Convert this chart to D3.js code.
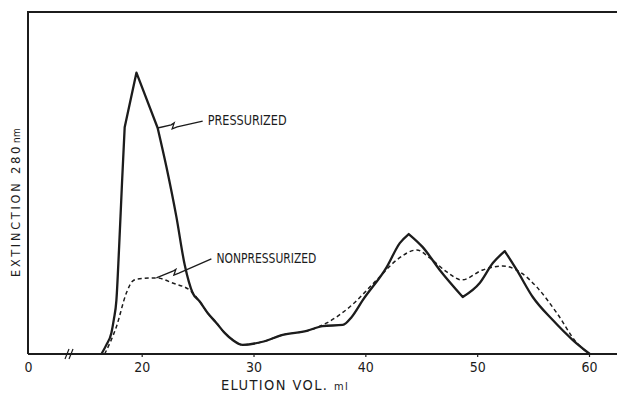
<!DOCTYPE html>
<html>
<head>
<meta charset="utf-8">
<script src="https://cdn.jsdelivr.net/npm/d3@7"></script>
<style>
  body { margin: 0; background: #fff; }
  text { font-family: "DejaVu Sans Condensed", "Liberation Sans Narrow", "Arial Narrow", sans-serif; fill: #1c1c1c; }
</style>
</head>
<body>
<script>
// values: elution volume (ml) and extinction (arbitrary units)
const pressVol = [16.4, 16.84, 17.29, 17.5, 17.74, 17.97, 18.24, 18.48, 19.53, 21.43, 22.21, 23.1, 23.85, 24.56, 25.19, 25.9, 26.68, 27.42, 28.14, 29.03, 30.82, 32.61, 34.76, 36.19, 37.98, 38.78, 39.77, 41.91, 43.08, 43.88, 45.13, 46.65, 48.71, 50.23, 51.4, 52.47, 53.54, 54.97, 56.76, 58.55, 60.07];
const pressExt = [0, 0.032, 0.074, 0.119, 0.189, 0.365, 0.6, 0.796, 0.987, 0.793, 0.657, 0.482, 0.312, 0.214, 0.184, 0.144, 0.109, 0.074, 0.049, 0.032, 0.043, 0.067, 0.081, 0.098, 0.102, 0.13, 0.189, 0.305, 0.389, 0.421, 0.375, 0.295, 0.2, 0.249, 0.319, 0.361, 0.295, 0.2, 0.119, 0.049, 0];
// the pen makes sharp corners at these volumes
const pressCorners = [18.48, 19.53, 21.43, 43.88, 48.71, 52.47];

const nonVol = [16.69, 17.74, 18.63, 19.19, 19.64, 21.31, 22.77, 24.45, 25.19, 25.9, 26.68, 27.42, 28.14, 29.03, 30.82, 32.61, 34.76, 36.55, 38.6, 41.02, 42.81, 44.6, 45.76, 47.28, 48.62, 50.5, 52.29, 53.81, 55.33, 57.12, 58.91, 60.07];
const nonExt = [0, 0.096, 0.214, 0.256, 0.263, 0.267, 0.249, 0.219, 0.184, 0.144, 0.109, 0.074, 0.049, 0.032, 0.043, 0.067, 0.081, 0.109, 0.165, 0.26, 0.33, 0.365, 0.337, 0.288, 0.26, 0.295, 0.309, 0.288, 0.235, 0.144, 0.039, 0];

const xTicks = [0, 20, 30, 40, 50, 60];

// label name, point on curve it points at, where the text starts
const labelNames = ["PRESSURIZED", "NONPRESSURIZED"];
const labelAt = [[21.43, 0.793], [21.31, 0.267]];
const labelText = [[25.9, 0.821], [26.68, 0.337]];

const width = 617, height = 393;
const ink = "#1c1c1c";

const svg = d3.select("body")
  .append("svg")
    .attr("width", width)
    .attr("height", height);

// broken axis: 0 squeezed at the left, real scale from the break on
const x = d3.scaleLinear()
  .domain([0, 13.5, 60])
  .range([28, 69, 589]);

const y = d3.scaleLinear()
  .domain([0, 1.2])
  .range([354, 12]);

// frame: left and top (runs off the right edge)
svg.append("path")
  .attr("d", `M${x(0)},${y(0)} V${y(1.2)} H${width + 10}`)
  .attr("fill", "none")
  .attr("stroke", ink)
  .attr("stroke-width", 2);

// x axis
const gx = svg.append("g")
  .attr("transform", `translate(0,${y(0)})`)
  .call(d3.axisBottom(x).tickValues(xTicks).tickSize(3).tickPadding(5).tickFormat(d3.format("d")));
gx.select(".domain").remove();
gx.selectAll(".tick line").attr("stroke", ink).attr("stroke-width", 1.2);
gx.select(".tick:first-of-type line").remove();
gx.selectAll(".tick text")
  .style("font-size", "14px")
  .attr("fill", ink);

svg.append("line")
  .attr("x1", x(0))
  .attr("x2", width + 10)
  .attr("y1", y(0))
  .attr("y2", y(0))
  .attr("stroke", ink)
  .attr("stroke-width", 2);

// axis break marks
[-2, 2].forEach(function(dx) {
  svg.append("line")
    .attr("x1", x(13.5) + dx - 2)
    .attr("x2", x(13.5) + dx + 2)
    .attr("y1", y(0) + 5)
    .attr("y2", y(0) - 5)
    .attr("stroke", ink)
    .attr("stroke-width", 1.2);
});

// curves
const smooth = d3.line()
  .x(d => x(d[0]))
  .y(d => y(d[1]))
  .curve(d3.curveMonotoneX);

svg.append("path")
  .datum(nonVol.map((v, i) => [v, nonExt[i]]))
  .attr("d", smooth)
  .attr("fill", "none")
  .attr("stroke", ink)
  .attr("stroke-width", 1.5)
  .attr("stroke-dasharray", "4,3");

// solid trace: smooth pieces that meet in sharp corners
const pressPts = pressVol.map((v, i) => [v, pressExt[i]]);
const cuts = [pressVol[0]].concat(pressCorners, [pressVol[pressVol.length - 1]]);
let pressD = "";
for (let k = 0; k < cuts.length - 1; k++) {
  const seg = pressPts.filter(d => d[0] >= cuts[k] && d[0] <= cuts[k + 1]);
  let d = smooth(seg);
  if (k > 0) d = "L" + d.slice(1);
  pressD += d;
}
svg.append("path")
  .attr("d", pressD)
  .attr("fill", "none")
  .attr("stroke", ink)
  .attr("stroke-width", 2.3)
  .attr("stroke-linejoin", "round");

// labels with zigzag leaders
const labelWidths = [79, 100];
labelNames.forEach(function(name, i) {
  const sx = x(labelAt[i][0]), sy = y(labelAt[i][1]);
  const tx = x(labelText[i][0]), ty = y(labelText[i][1]);
  const ex = tx - 5, ey = ty + 1;
  const mx = sx + (ex - sx) * 0.3, my = sy + (ey - sy) * 0.3;
  svg.append("path")
    .attr("d", `M${sx},${sy} L${mx},${my - 1} L${mx + 3},${my - 3} L${mx + 1},${my + 3} L${mx + 6},${my + 1} L${ex},${ey}`)
    .attr("fill", "none")
    .attr("stroke", ink)
    .attr("stroke-width", 1.3);
  svg.append("text")
    .attr("x", tx)
    .attr("y", ty + 5)
    .attr("textLength", labelWidths[i])
    .attr("lengthAdjust", "spacingAndGlyphs")
    .style("font-size", "13.5px")
    .text(name);
});

// y title, read bottom to top
svg.append("text")
  .attr("transform", "translate(20,277) rotate(-90)")
  .html('<tspan x="0" style="font-size:12.5px;letter-spacing:2.8px">EXTINCTION</tspan>'
      + '<tspan x="103" style="font-size:13px;letter-spacing:2.6px">280</tspan>'
      + '<tspan x="134" style="font-size:10px;letter-spacing:0.3px">nm</tspan>');

svg.append("text")
  .attr("x", 285)
  .attr("y", 389.5)
  .attr("text-anchor", "middle")
  .style("font-size", "14.5px")
  .style("letter-spacing", "1.4px")
  .html('ELUTION VOL. <tspan style="font-size:11px">ml</tspan>');
</script>
</body>
</html>
